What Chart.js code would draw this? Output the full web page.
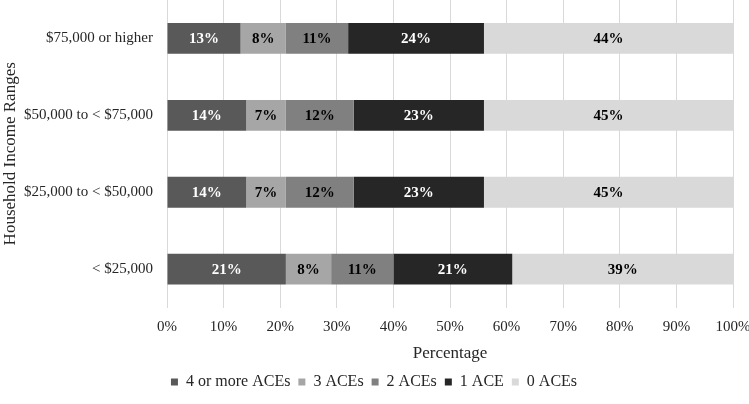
<!DOCTYPE html>
<html>
<head>
<meta charset="utf-8">
<script src="https://cdn.jsdelivr.net/npm/chart.js@4"></script>
<style>
  html, body { margin: 0; padding: 0; background: #fff; }
  #wrap { width: 749px; height: 404px; }
</style>
</head>
<body>
<div id="wrap"><canvas id="chart"></canvas></div>
<script>
// income groups, top to bottom
const incomeRanges = ['$75,000 or higher', '$50,000 to < $75,000', '$25,000 to < $50,000', '< $25,000'];
const aceLabels = ['4 or more ACEs', '3 ACEs', '2 ACEs', '1 ACE', '0 ACEs'];

const aces4plus = [13, 14, 14, 21];
const aces3 = [8, 7, 7, 8];
const aces2 = [11, 12, 12, 11];
const aces1 = [24, 23, 23, 21];
const aces0 = [44, 45, 45, 39];

const xTicks = [0, 10, 20, 30, 40, 50, 60, 70, 80, 90, 100];

const fills = ['#595959', '#a6a6a6', '#808080', '#262626', '#d9d9d9'];
const labelColors = ['#ffffff', '#000000', '#000000', '#ffffff', '#000000'];
const seriesValues = [aces4plus, aces3, aces2, aces1, aces0];

const serif = '"Liberation Serif", "Times New Roman", serif';

// draws the % value in the middle of each segment
const segmentLabels = {
    id: 'segmentLabels',
    afterDatasetsDraw(chart) {
        const ctx = chart.ctx;
        ctx.save();
        ctx.font = 'bold 15px ' + serif;
        ctx.textAlign = 'center';
        ctx.textBaseline = 'middle';
        chart.data.datasets.forEach((ds, i) => {
            const meta = chart.getDatasetMeta(i);
            meta.data.forEach((bar, j) => {
                const left = Math.min(bar.x, bar.base);
                const right = Math.min(Math.max(bar.x, bar.base), chart.chartArea.right);
                ctx.fillStyle = labelColors[i];
                ctx.fillText(ds.data[j] + '%', (left + right) / 2, bar.y + 1);
            });
        });
        ctx.restore();
    }
};

const ctx = document.getElementById('chart').getContext('2d');
new Chart(ctx, {
    type: 'bar',
    data: {
        labels: incomeRanges,
        datasets: aceLabels.map((name, i) => ({
            label: name,
            data: seriesValues[i],
            backgroundColor: fills[i],
            borderWidth: 0,
            categoryPercentage: 1,
            barPercentage: 0.4
        }))
    },
    options: {
        indexAxis: 'y',
        responsive: true,
        maintainAspectRatio: false,
        animation: false,
        layout: { padding: { left: 0, right: 1, top: 0, bottom: 4 } },
        scales: {
            x: {
                stacked: true,
                min: 0,
                max: 100,
                afterBuildTicks: axis => { axis.ticks = xTicks.map(v => ({ value: v })); },
                afterFit: axis => {
                    axis.paddingLeft = 0;
                    axis.paddingRight = 16;
                },
                grid: { color: '#d9d9d9', lineWidth: 1, drawTicks: false },
                border: { display: false },
                ticks: {
                    padding: 10,
                    color: '#262626',
                    font: { family: serif, size: 15 },
                    callback: v => v + '%'
                },
                title: {
                    display: true,
                    text: 'Percentage',
                    color: '#262626',
                    font: { family: serif, size: 17 },
                    padding: { top: -2, bottom: 2 }
                }
            },
            y: {
                stacked: true,
                grid: { display: false, drawTicks: false },
                border: { display: false },
                afterFit: axis => {
                    axis.width = 167;
                    axis.paddingTop = 0;
                    axis.paddingBottom = 0;
                },
                ticks: {
                    padding: 14,
                    color: '#262626',
                    font: { family: serif, size: 15 }
                },
                title: {
                    display: true,
                    text: 'Household Income Ranges',
                    color: '#262626',
                    font: { family: serif, size: 17 },
                    padding: { top: 0, bottom: 0 }
                }
            }
        },
        plugins: {
            legend: {
                position: 'bottom',
                labels: {
                    boxWidth: 7,
                    boxHeight: 7,
                    padding: 8,
                    color: '#262626',
                    font: { family: serif, size: 16 }
                }
            },
            tooltip: { enabled: false }
        }
    },
    plugins: [segmentLabels]
});
</script>
</body>
</html>
